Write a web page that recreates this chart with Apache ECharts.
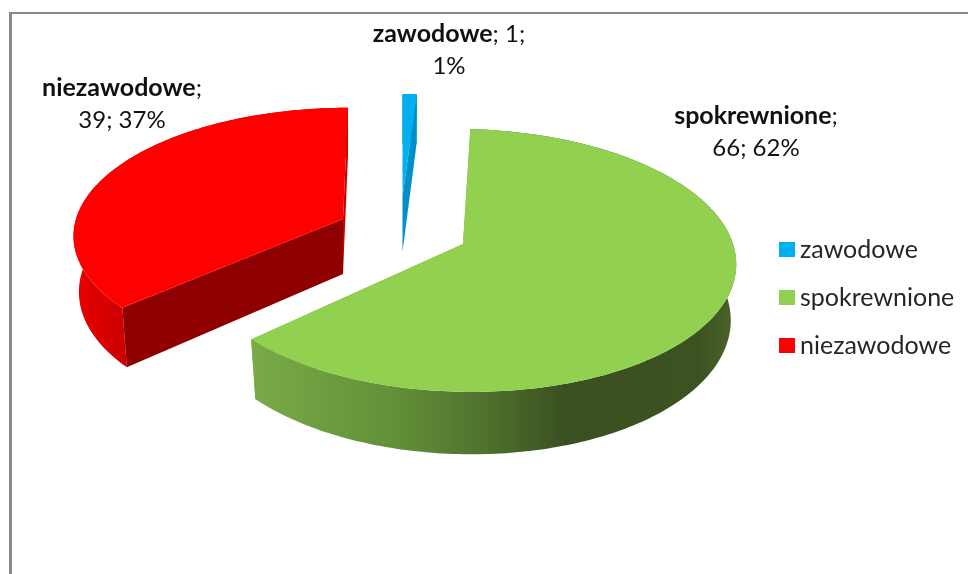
<!DOCTYPE html>
<html>
<head>
<meta charset="utf-8">
<style>
  html, body { margin: 0; padding: 0; background: #fff; }
  #chart { width: 968px; height: 574px; }
</style>
<script src="https://cdn.jsdelivr.net/npm/echarts@6/dist/echarts.min.js"></script>
</head>
<body>
<div id="chart"></div>
<script>
const categories = ['zawodowe', 'spokrewnione', 'niezawodowe']
const values = [1, 66, 39]
const total = values.reduce((a, b) => a + b, 0)

// slice placement, the 3D pie is projected by hand (no 3D pie type in echarts)
const sliceLayout = [
  { apex: [402.5, 197], rx: 272, ry: 116, k: 0.125, skew: 0, startShift: 0, label: [449, 50] },
  { apex: [463, 244], rx: 270, ry: 129.4, k: 0.125, skew: 0.06, startShift: 0, label: [756, 132] },
  { apex: [343, 219], rx: 267, ry: 124, k: 0.115, skew: -0.045, startShift: 1, label: [122, 104] }
]
const DEPTH = 55
const BOTTOM_SCALE_X = 0.98
const BOTTOM_SCALE_Y = 1.05

const topColors = ['#00b0f0', '#92d050', '#ff0000']
const startFaceColors = ['#00a4e0', '#7aab47', '#8f0000']
const endFaceColors = ['#0090c8', '#7aab47', '#c40000']
const wallColors = [
  ['#0090c8', '#0090c8'],
  [[0, '#7aab47'], [0.3, '#628f38'], [0.48, '#4f722d'], [0.65, '#3a5020'], [0.92, '#3c5221'], [1, '#4a6629']],
  [[0, '#e80000'], [1, '#cc0000']]
]
const wallGradientRange = [[402, 417], [250, 737], [73, 128]]

function project(layout, angle) {
  const c = Math.cos(angle)
  const f = 1 / (1 + layout.k * c)
  const dy = -layout.ry * c * f
  return [layout.rx * Math.sin(angle) * f + layout.skew * dy, dy]
}

const topPoint = (layout, p) => [layout.apex[0] + p[0], layout.apex[1] + p[1]]
const bottomPoint = (layout, p) => [
  layout.apex[0] + p[0] * BOTTOM_SCALE_X,
  layout.apex[1] + p[1] * BOTTOM_SCALE_Y + DEPTH
]

function sliceAngles(index) {
  const before = values.slice(0, index).reduce((a, b) => a + b, 0)
  const shift = sliceLayout[index].startShift * Math.PI / 180
  return [before / total * Math.PI * 2 + shift, (before + values[index]) / total * Math.PI * 2]
}

const renderSlice = index => (params, api) => {
  const value = api.value(0)
  const layout = sliceLayout[index]
  const [a0, a1] = sliceAngles(index)
  const steps = Math.max(4, Math.round((a1 - a0) * 180 / Math.PI))
  const arc = []
  for (let i = 0; i <= steps; i++) arc.push(project(layout, a0 + (a1 - a0) * i / steps))

  const topArc = arc.map(p => topPoint(layout, p))
  const bottomArc = arc.map(p => bottomPoint(layout, p))
  const apexTop = layout.apex
  const apexBottom = [layout.apex[0], layout.apex[1] + DEPTH]

  const wallStops = wallColors[index]
  const wallFill = Array.isArray(wallStops[0])
    ? new echarts.graphic.LinearGradient(
        wallGradientRange[index][0], 0, wallGradientRange[index][1], 0,
        wallStops.map(s => ({ offset: s[0], color: s[1] })), true)
    : wallStops[0]

  const poly = (points, fill) => ({ type: 'polygon', shape: { points }, style: { fill }, silent: true })
  const pct = Math.round(value / total * 100)

  return {
    type: 'group',
    children: [
      poly([apexTop, topArc[topArc.length - 1], bottomArc[bottomArc.length - 1], apexBottom], endFaceColors[index]),
      poly(topArc.concat(bottomArc.slice().reverse()), wallFill),
      poly([apexTop, topArc[0], bottomArc[0], apexBottom], startFaceColors[index]),
      poly([apexTop].concat(topArc), topColors[index]),
      {
        type: 'text',
        x: layout.label[0],
        y: layout.label[1],
        style: {
          text: index === 0
            ? `{b|${categories[index]}}{n|; ${value};}\n{n|${pct}%}`
            : `{b|${categories[index]}}{n|;}\n{n|${value}; ${pct}%}`,
          align: 'center',
          verticalAlign: 'middle',
          rich: {
            b: { font: 'bold 25px Lato', fill: '#111', lineHeight: 32 },
            n: { font: '24px Lato', fill: '#111', lineHeight: 32 }
          }
        }
      }
    ]
  }
}

const chart = echarts.init(document.getElementById('chart'))

chart.setOption({
  animation: false,
  backgroundColor: '#fff',
  legend: {
    orient: 'vertical',
    left: 779,
    top: 237,
    padding: 0,
    itemWidth: 16,
    itemHeight: 15,
    itemGap: 23,
    icon: 'rect',
    data: categories,
    textStyle: { fontFamily: 'Lato', fontSize: 25, color: '#262626' }
  },
  graphic: [
    { type: 'rect', shape: { x: 9, y: 12, width: 959, height: 2 }, style: { fill: '#888' } },
    { type: 'rect', shape: { x: 9, y: 12, width: 3, height: 562 }, style: { fill: '#888' } }
  ],
  series: categories.map((name, i) => ({
    type: 'custom',
    name,
    coordinateSystem: 'none',
    renderItem: renderSlice(i),
    itemStyle: { color: topColors[i] },
    data: [[values[i]]]
  }))
})
</script>
</body>
</html>
